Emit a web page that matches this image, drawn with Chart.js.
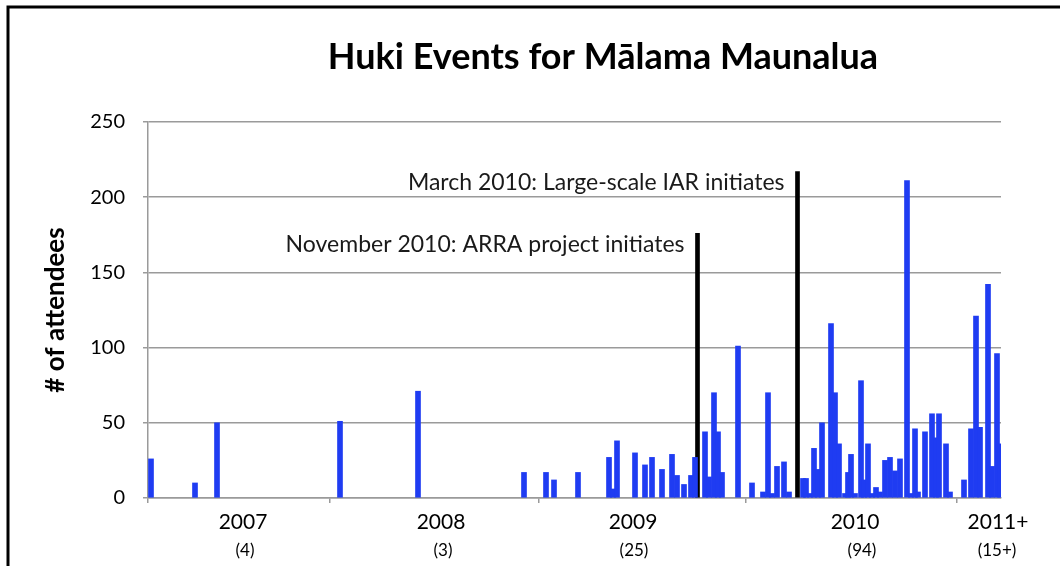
<!DOCTYPE html>
<html>
<head>
<meta charset="utf-8">
<script src="https://cdn.jsdelivr.net/npm/chart.js@4.4.0/dist/chart.umd.min.js"></script>
<style>
body { margin: 0; background: #fff; }
#wrap { width: 1060px; height: 566px; }
</style>
</head>
<body>
<div id="wrap"><canvas id="c"></canvas></div>
<script>
// event position along the timeline and number of attendees
const eventPos = [3, 47, 69, 192, 270, 376, 398, 406, 430,
  461, 465, 469, 487, 497, 504, 514, 524, 529, 536, 543, 547,
  557, 561, 566, 570, 574, 590, 604, 615, 620, 624, 629, 636, 641,
  655, 658, 662, 666, 670, 674, 683, 687, 691, 697, 700, 703, 707,
  713, 716, 720, 724, 728, 732, 737, 742, 747, 752, 759, 763, 767,
  770, 777, 784, 788, 791, 798, 802, 816, 823, 828, 832, 840, 844, 849, 852];
const eventCount = [26, 10, 50, 51, 71, 17, 17, 12, 17,
  27, 6, 38, 30, 22, 27, 19, 29, 15, 9, 15, 27,
  44, 14, 70, 44, 17, 101, 10, 4, 70, 3, 21, 24, 4,
  13, 13, 3, 33, 19, 50, 116, 70, 36, 3, 17, 29, 3,
  78, 12, 36, 3, 7, 4, 25, 27, 18, 26, 211, 3, 46,
  4, 44, 56, 40, 56, 36, 4, 12, 46, 121, 47, 142, 21, 96, 36];

// milestone markers
const markerPos = [549.5, 649.5];
const markerTop = [176, 217];
const markerText = ['November 2010: ARRA project initiates', 'March 2010: Large-scale IAR initiates'];

// axis labels
const yearEdges = [0, 182, 391, 598, 809];
const yearPos = [95, 293, 485, 707, 850];
const yearLabels = ['2007', '2008', '2009', '2010', '2011+'];
const countPos = [97, 295, 486, 714, 849];
const countLabels = ['(4)', '(3)', '(25)', '(94)', '(15+)'];

const X_MAX = 853;
const gridGray = '#9a9a9a';

const frame = {
  id: 'frame',
  afterDraw(chart) {
    const ctx = chart.ctx;
    ctx.save();
    ctx.strokeStyle = '#000';
    ctx.lineWidth = 3;
    ctx.beginPath();
    ctx.moveTo(8, chart.height);
    ctx.lineTo(8, 7);
    ctx.lineTo(chart.width, 7);
    ctx.stroke();

    ctx.fillStyle = '#000';
    ctx.font = 'bold 36px Lato';
    ctx.textAlign = 'center';
    ctx.textBaseline = 'middle';
    ctx.fillText('Huki Events for Mālama Maunalua', 603, 57);

    const xs = chart.scales.x, ys = chart.scales.y;
    ctx.font = '23px Lato';
    ctx.fillStyle = '#1a1a1a';
    ctx.textAlign = 'right';
    for (let i = 0; i < markerPos.length; i++) {
      ctx.fillText(markerText[i], xs.getPixelForValue(markerPos[i]) - 13, ys.getPixelForValue(markerTop[i]) + 11);
    }
    ctx.restore();
  }
};

function placeTicks(positions) {
  return function(scale) {
    scale.ticks = positions.map(v => ({ value: v }));
  };
}

new Chart(document.getElementById('c'), {
  type: 'bar',
  data: {
    datasets: [
      {
        data: eventPos.map((p, i) => ({ x: p, y: eventCount[i] })),
        backgroundColor: '#1f3cf2',
        barThickness: 5,
        grouped: false
      },
      {
        data: markerPos.map((p, i) => ({ x: p, y: markerTop[i] })),
        backgroundColor: '#000',
        barThickness: 4,
        grouped: false
      }
    ]
  },
  plugins: [frame],
  options: {
    responsive: true,
    maintainAspectRatio: false,
    animation: false,
    layout: { padding: { top: 122, right: 59, left: 0, bottom: 0 } },
    plugins: {
      legend: { display: false },
      tooltip: { enabled: false }
    },
    scales: {
      x: {
        type: 'linear',
        position: 'bottom',
        min: 0,
        max: X_MAX,
        offset: false,
        afterBuildTicks: placeTicks(yearEdges),
        afterFit(s) { s.height = 5; },
        ticks: { display: false },
        grid: { drawOnChartArea: false, offset: false, color: gridGray, lineWidth: 1.5, tickLength: 5 },
        border: { color: gridGray, width: 1.5 }
      },
      xYear: {
        type: 'linear',
        position: 'bottom',
        min: 0,
        max: X_MAX,
        offset: false,
        afterBuildTicks: placeTicks(yearPos),
        afterFit(s) { s.height = 33; },
        ticks: {
          autoSkip: false, maxRotation: 0, padding: 7,
          color: '#000', font: { family: 'Lato', size: 21 },
          callback: (v, i) => yearLabels[i]
        },
        grid: { display: false, drawTicks: false },
        border: { display: false }
      },
      xCount: {
        type: 'linear',
        position: 'bottom',
        min: 0,
        max: X_MAX,
        offset: false,
        afterBuildTicks: placeTicks(countPos),
        afterFit(s) { s.height = 30; },
        ticks: {
          autoSkip: false, maxRotation: 0, padding: 4,
          color: '#000', font: { family: 'Lato', size: 17 },
          callback: (v, i) => countLabels[i]
        },
        grid: { display: false, drawTicks: false },
        border: { display: false }
      },
      y: {
        min: 0,
        max: 250,
        afterFit(s) { s.width = 148; },
        ticks: { stepSize: 50, padding: 18, color: '#000', font: { family: 'Lato', size: 20 } },
        grid: { color: gridGray, lineWidth: 1.5, tickLength: 5 },
        border: { color: gridGray, width: 1.5 },
        title: {
          display: true,
          text: '# of attendees',
          color: '#000',
          font: { family: 'Lato', size: 26, weight: 'bold' },
          padding: { top: 40, bottom: 0 }
        }
      }
    }
  }
});
</script>
</body>
</html>
